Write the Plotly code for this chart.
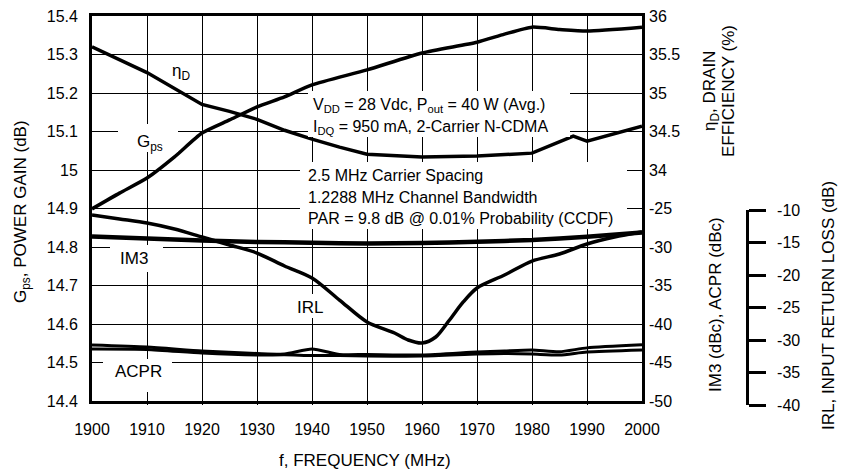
import plotly.graph_objects as go

# ---------------- data ----------------
gps_f = [1900, 1905, 1910, 1915, 1920, 1925, 1930, 1935, 1940, 1950, 1960, 1970, 1975, 1980, 1985, 1990, 2000]
gps = [14.899, 14.94, 14.979, 15.034, 15.096, 15.13, 15.164, 15.19, 15.221, 15.26, 15.304, 15.332, 15.353, 15.371, 15.365, 15.361, 15.371]

eta_f = [1900, 1910, 1920, 1925, 1930, 1935, 1940, 1945, 1950, 1960, 1970, 1980, 1987.5, 1990, 2000]
eta = [35.6, 35.265, 34.852, 34.761, 34.658, 34.516, 34.4, 34.297, 34.206, 34.168, 34.181, 34.219, 34.439, 34.374, 34.568]

im3_f = [1900, 1910, 1920, 1930, 1940, 1950, 1960, 1970, 1980, 1990, 2000]
im3 = [-28.64, -28.9, -29.16, -29.35, -29.44, -29.55, -29.48, -29.31, -29.09, -28.66, -28.1]

acpr_f = [1900, 1910, 1920, 1930, 1935, 1940, 1945, 1950, 1960, 1970, 1975, 1980, 1985, 1990, 2000]
acpr_a = [-42.73, -42.99, -43.5, -43.83, -43.9, -43.25, -43.95, -43.96, -44.03, -43.64, -43.5, -43.38, -43.6, -43.1, -42.7]
acpr_b = [-43.25, -43.3, -43.77, -44.03, -44.0, -44.1, -44.1, -44.16, -44.16, -43.9, -43.83, -43.9, -44.03, -43.64, -43.38]

irl_f = [1900, 1905, 1910, 1915, 1920, 1925, 1930, 1935, 1940, 1945, 1950, 1955, 1957.5, 1960,
         1962.5, 1965, 1967.5, 1970, 1975, 1980, 1985, 1990, 1995, 2000]
irl = [-10.77, -11.38, -12.0, -12.92, -14.15, -15.38, -16.62, -18.62, -20.46, -23.85, -27.23, -28.92, -30.0, -30.46,
       -29.54, -26.92, -24.15, -22.0, -20.0, -17.85, -16.77, -15.23, -14.15, -13.38]

x_ticks = [1900, 1910, 1920, 1930, 1940, 1950, 1960, 1970, 1980, 1990, 2000]
gps_ticks = [14.4, 14.5, 14.6, 14.7, 14.8, 14.9, 15.0, 15.1, 15.2, 15.3, 15.4]
gps_ticktext = ["14.4", "14.5", "14.6", "14.7", "14.8", "14.9", "15", "15.1", "15.2", "15.3", "15.4"]
eta_ticks = [34, 34.5, 35, 35.5, 36]
eta_ticktext = ["34", "34.5", "35", "35.5", "36"]
dbc_ticks = [-50, -45, -40, -35, -30, -25]
dbc_ticktext = ["-50", "-45", "-40", "-35", "-30", "-25"]
irl_ticks = [-40, -35, -30, -25, -20, -15, -10]
irl_ticktext = ["-40", "-35", "-30", "-25", "-20", "-15", "-10"]

FONT = "Liberation Sans, Arial, sans-serif"
TICK_SIZE = 16
TXT_SIZE = 16
LBL_SIZE = 17
TITLE_SIZE = 17
LW = 3.5

fig = go.Figure()
fig.add_trace(go.Scatter(x=gps_f, y=gps, mode="lines", line=dict(color="black", width=LW, shape="spline", smoothing=0.6),
                         yaxis="y", showlegend=False))
fig.add_trace(go.Scatter(x=eta_f, y=eta, mode="lines", line=dict(color="black", width=LW),
                         yaxis="y3", showlegend=False))
fig.add_trace(go.Scatter(x=im3_f, y=im3, mode="lines", line=dict(color="black", width=4.5, shape="spline", smoothing=0.6),
                         yaxis="y2", showlegend=False))
fig.add_trace(go.Scatter(x=acpr_f, y=acpr_a, mode="lines", line=dict(color="black", width=3, shape="spline", smoothing=0.6),
                         yaxis="y2", showlegend=False))
fig.add_trace(go.Scatter(x=acpr_f, y=acpr_b, mode="lines", line=dict(color="black", width=3, shape="spline", smoothing=0.6),
                         yaxis="y2", showlegend=False))
fig.add_trace(go.Scatter(x=irl_f, y=irl, mode="lines", line=dict(color="black", width=LW, shape="spline", smoothing=0.8),
                         yaxis="y4", showlegend=False))

W_PAPER = 740.0
H_PAPER = 389.0

def px(xp):
    return (xp - 92) / W_PAPER

def py(yp):
    return (405 - yp) / H_PAPER

def fx(xp):
    return 1900 + (xp - 92) / 5.5

def gy(yp):
    return 14.4 + (401 - yp) / 385.0

ann = []

# white boxes behind the labels (they hide the grid, as in the reference)
boxes = [
    (308, 570, 91, 137),
    (300, 627, 162, 229),
    (118, 178, 124, 152),
    (110, 163, 245, 272),
    (103, 172, 359, 392),
    (295, 325, 294, 318),
]
for x0, x1, y0, y1 in boxes:
    ann.append(dict(text=" ", xref="x", yref="y", x=fx((x0 + x1) / 2), y=gy((y0 + y1) / 2),
                    width=x1 - x0, height=y1 - y0, bgcolor="white", borderpad=0, borderwidth=0,
                    showarrow=False, xanchor="center", yanchor="middle"))

def text_at(t, xp, yp, size=TXT_SIZE, xanchor="center"):
    ann.append(dict(text=t, xref="x", yref="y", x=fx(xp), y=gy(yp), showarrow=False,
                    xanchor=xanchor, yanchor="middle", font=dict(size=size, family=FONT, color="black")))

text_at("η<sub>D</sub>", 181, 72, size=LBL_SIZE)
text_at("G<sub>ps</sub>", 150, 143, size=LBL_SIZE)
text_at("IM3", 134, 258, size=LBL_SIZE)
text_at("ACPR", 138, 371, size=LBL_SIZE)
text_at("IRL", 310, 307, size=LBL_SIZE)
text_at("V<sub>DD</sub> = 28 Vdc, P<sub>out</sub> = 40 W (Avg.)", 311, 105, xanchor="left")
text_at("I<sub>DQ</sub> = 950 mA, 2-Carrier N-CDMA", 311, 127, xanchor="left")
text_at("2.5 MHz Carrier Spacing", 306, 175, xanchor="left")
text_at("1.2288 MHz Channel Bandwidth", 306, 197, xanchor="left")
text_at("PAR = 9.8 dB @ 0.01% Probability (CCDF)", 306, 218, xanchor="left")

def title_at(t, xp, yp, angle=-90, size=TITLE_SIZE):
    ann.append(dict(text=t, xref="paper", yref="paper", x=px(xp), y=py(yp), showarrow=False,
                    xanchor="center", yanchor="middle", textangle=angle,
                    font=dict(size=size, family=FONT, color="black")))

title_at("G<sub>ps</sub>, POWER GAIN (dB)", 22, 212)
title_at("f, FREQUENCY (MHz)", 365, 460, angle=0)
title_at("η<sub>D</sub>, DRAIN", 711, 91)
title_at("EFFICIENCY (%)", 728, 91)
title_at("IM3 (dBc), ACPR (dBc)", 715, 305)
title_at("IRL, INPUT RETURN LOSS (dB)", 828, 306)

axis_common = dict(color="black", zeroline=False, automargin=False,
                   tickfont=dict(family=FONT, size=TICK_SIZE, color="black"))

fig.update_layout(
    width=842, height=474,
    margin=dict(l=92, r=10, t=16, b=69, pad=0, autoexpand=False),
    paper_bgcolor="white", plot_bgcolor="rgba(0,0,0,0)",
    font=dict(family=FONT, size=TICK_SIZE, color="black"),
    showlegend=False,
    xaxis=dict(domain=[0, 550 / W_PAPER], range=[1900, 2000], tickvals=x_ticks,
               showgrid=True, gridcolor="black", gridwidth=1.3,
               showline=True, linecolor="black", linewidth=2.8, mirror=True,
               ticks="", ticklabelstandoff=12, **axis_common),
    yaxis=dict(domain=[4 / H_PAPER, 1], range=[14.4, 15.4], tickvals=gps_ticks, ticktext=gps_ticktext,
               showgrid=True, gridcolor="black", gridwidth=1.3,
               showline=True, linecolor="black", linewidth=2.8, mirror=True,
               ticks="", ticklabelstandoff=8, **axis_common),
    yaxis2=dict(overlaying="y", side="right", anchor="x", range=[-50, 0],
                tickvals=dbc_ticks, ticktext=dbc_ticktext, showgrid=False, showline=False,
                ticks="", ticklabelstandoff=6, **axis_common),
    yaxis3=dict(overlaying="y", side="right", anchor="x", range=[31, 36],
                tickvals=eta_ticks, ticktext=eta_ticktext, showgrid=False, showline=False,
                ticks="", ticklabelstandoff=6, **axis_common),
    yaxis4=dict(domain=[0, 195 / H_PAPER], anchor="free", position=px(747), side="right",
                range=[-40, -10], tickvals=irl_ticks, ticktext=irl_ticktext,
                showgrid=False, showline=True, linecolor="black", linewidth=2.8,
                ticks="outside", ticklen=17, tickwidth=2.8, tickcolor="black",
                ticklabelstandoff=8, **axis_common),
    annotations=ann,
)

fig.write_html("out.html", config={"displayModeBar": False},
               post_script="document.body.style.margin='0';")
